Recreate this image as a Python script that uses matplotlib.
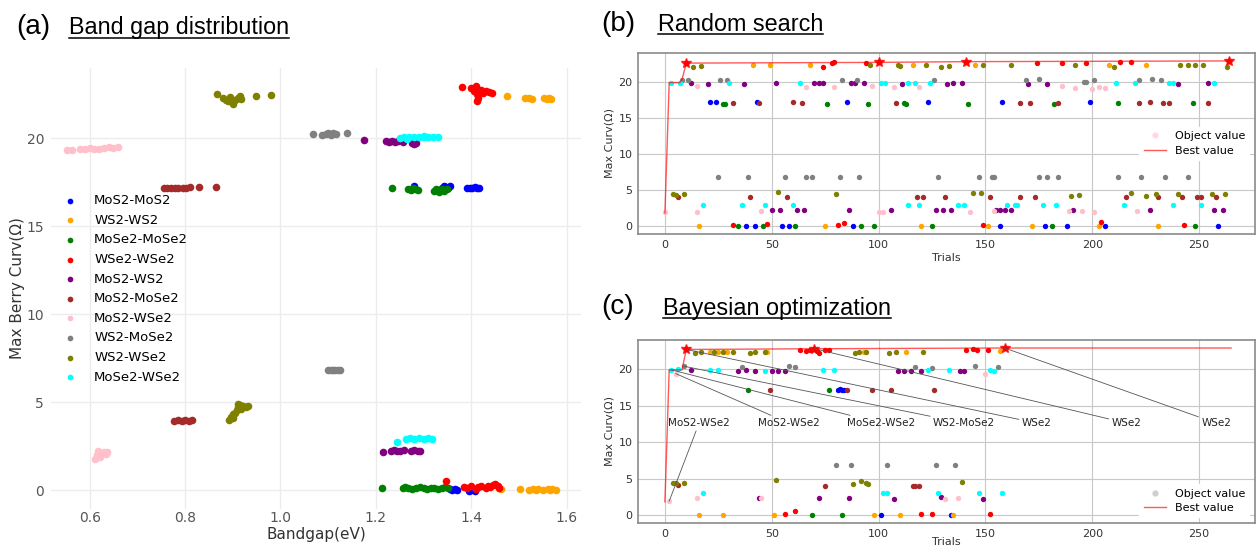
import matplotlib

matplotlib.use("Agg")

import matplotlib.pyplot as plt
from matplotlib.lines import Line2D

FIG_W, FIG_H = 1260, 547

STACKINGS = [
    "MoS2-MoS2", "WS2-WS2", "MoSe2-MoSe2", "WSe2-WSe2", "MoS2-WS2",
    "MoS2-MoSe2", "MoS2-WSe2", "WS2-MoSe2", "WS2-WSe2", "MoSe2-WSe2",
]
STACK_COLORS = [
    "blue", "orange", "green", "red", "purple",
    "brown", "pink", "gray", "olive", "cyan",
]

# (a) band gap (eV) vs max Berry curvature, one list per stacking
BG_MOS2_MOS2 = [(1.279, 17.3), (1.338, 17.2), (1.342, 17.3), (1.348, 17.25), (1.352, 17.2),
                (1.355, 17.3), (1.392, 17.2), (1.398, 17.15), (1.402, 17.2), (1.407, 17.25),
                (1.412, 17.15), (1.417, 17.2), (1.355, 0.05), (1.36, 0.0), (1.365, 0.05),
                (1.371, 0.0), (1.396, -0.05), (1.40, 0.0), (1.404, 0.05), (1.408, -0.05)]
BG_WS2_WS2 = [(1.475, 22.4), (1.513, 22.3), (1.52, 22.3), (1.527, 22.25), (1.553, 22.3),
              (1.558, 22.25), (1.562, 22.3), (1.568, 22.25), (1.462, 0.05), (1.503, 0.05),
              (1.52, 0.0), (1.53, 0.05), (1.535, 0.0), (1.54, 0.05), (1.55, 0.0),
              (1.56, 0.05), (1.565, 0.0), (1.57, 0.05), (1.578, 0.0)]
BG_MOSE2_MOSE2 = [(1.233, 17.15), (1.268, 17.1), (1.273, 17.05), (1.278, 17.15), (1.283, 17.1),
                  (1.288, 17.05), (1.322, 17.0), (1.327, 17.1), (1.333, 16.95), (1.338, 17.1),
                  (1.343, 17.0), (1.35, 17.1), (1.213, 0.1), (1.256, 0.1), (1.262, 0.15),
                  (1.268, 0.1), (1.275, 0.05), (1.285, 0.1), (1.292, 0.15), (1.30, 0.1),
                  (1.308, 0.05), (1.315, 0.1), (1.322, 0.1), (1.33, 0.05), (1.338, 0.1),
                  (1.345, 0.15), (1.352, 0.1)]
BG_WSE2_WSE2 = [(1.380, 22.9), (1.400, 22.85), (1.405, 22.7), (1.410, 22.95), (1.412, 22.5),
                (1.414, 22.3), (1.412, 22.1), (1.420, 22.75), (1.425, 22.6), (1.430, 22.7),
                (1.438, 22.65), (1.443, 22.6), (1.347, 0.5), (1.385, 0.15), (1.392, 0.1),
                (1.40, 0.2), (1.41, 0.05), (1.415, 0.15), (1.42, 0.2), (1.43, 0.1),
                (1.435, 0.25), (1.44, 0.15), (1.445, 0.3), (1.45, 0.35), (1.455, 0.2),
                (1.458, 0.1)]
BG_MOS2_WS2 = [(1.176, 19.9), (1.222, 19.85), (1.228, 19.8), (1.234, 19.85), (1.24, 19.8),
               (1.246, 19.85), (1.256, 19.8), (1.275, 19.75), (1.28, 19.7), (1.285, 19.75),
               (1.215, 2.15), (1.232, 2.2), (1.238, 2.25), (1.244, 2.2), (1.25, 2.2),
               (1.258, 2.25), (1.273, 2.2), (1.28, 2.25), (1.288, 2.2), (1.293, 2.2)]
BG_MOS2_MOSE2 = [(0.755, 17.2), (0.762, 17.2), (0.77, 17.2), (0.778, 17.2), (0.786, 17.2),
                 (0.795, 17.2), (0.803, 17.2), (0.81, 17.25), (0.83, 17.25), (0.864, 17.25),
                 (0.777, 3.95), (0.785, 4.0), (0.793, 3.95), (0.80, 4.0), (0.808, 3.95),
                 (0.815, 4.0)]
BG_MOS2_WSE2 = [(0.553, 19.35), (0.562, 19.35), (0.58, 19.4), (0.59, 19.4), (0.60, 19.45),
                (0.61, 19.4), (0.62, 19.4), (0.63, 19.45), (0.64, 19.5), (0.65, 19.45),
                (0.66, 19.5), (0.612, 1.75), (0.615, 2.0), (0.618, 2.2), (0.622, 1.9),
                (0.626, 2.1), (0.63, 2.15), (0.634, 2.05), (0.637, 2.15)]
BG_WS2_MOSE2 = [(1.069, 20.25), (1.087, 20.2), (1.095, 20.25), (1.10, 20.3), (1.106, 20.2),
                (1.11, 20.3), (1.116, 20.25), (1.14, 20.3), (1.10, 6.8), (1.105, 6.85),
                (1.11, 6.8), (1.115, 6.85), (1.12, 6.8), (1.124, 6.85)]
BG_WS2_WSE2 = [(0.866, 22.5), (0.88, 22.3), (0.885, 22.2), (0.89, 22.1), (0.895, 22.35),
               (0.90, 21.95), (0.905, 22.2), (0.91, 22.3), (0.915, 22.4), (0.918, 22.25),
               (0.948, 22.4), (0.98, 22.45), (0.893, 4.0), (0.897, 4.15), (0.90, 4.3),
               (0.905, 4.4), (0.908, 4.55), (0.912, 4.7), (0.915, 4.85), (0.918, 4.6),
               (0.922, 4.75), (0.928, 4.7), (0.932, 4.8), (0.90, 4.1), (0.91, 4.9)]
BG_MOSE2_WSE2 = [(1.25, 20.0), (1.26, 20.1), (1.265, 19.95), (1.27, 20.05), (1.28, 20.1),
                 (1.29, 20.05), (1.30, 20.1), (1.30, 20.15), (1.31, 20.05), (1.32, 20.1),
                 (1.33, 20.1), (1.244, 2.75), (1.264, 2.9), (1.272, 2.95), (1.28, 2.9),
                 (1.29, 2.95), (1.30, 2.9), (1.31, 2.95), (1.318, 2.9)]

# (b) random search: (trial, max curvature) per stacking
RS_MOS2_MOS2 = [(21, 17.2), (24, 17.2), (43, 17.2), (85, 17.2), (123, 17.2), (158, 17.2),
                (199, 17.2), (38, 0), (42, 0), (55, 0), (58, 0), (88, 0), (157, 0), (178, 0),
                (188, 0), (206, 0), (259, 0)]
RS_WS2_WS2 = [(41, 22.4), (49, 22.4), (68, 22.4), (116, 22.4), (145, 22.3), (208, 22.4),
              (225, 22.3), (16, 0), (75, 0), (120, 0), (151, 0), (172, 0), (203, 0), (231, 0)]
RS_MOSE2_MOSE2 = [(27, 16.95), (28, 16.9), (76, 16.9), (95, 16.95), (112, 17.0), (113, 16.95),
                  (142, 16.95), (182, 16.95), (212, 17.0), (247, 17.0), (34, 0), (46, 0.05),
                  (61, -0.05), (92, 0), (98, 0), (125, 0), (181, 0), (248, 0)]
RS_WSE2_WSE2 = [(10, 22.6), (74, 22.1), (78, 22.6), (79, 22.7), (94, 22.6), (100, 22.7),
                (141, 22.8), (174, 22.6), (186, 22.6), (197, 22.6), (213, 22.8), (218, 22.7),
                (264, 22.9), (32, 0.1), (48, 0.3), (81, 0.2), (84, 0.4), (149, 0.1),
                (204, 0.5), (243, 0.1)]
RS_MOS2_WS2 = [(12, 19.8), (20, 19.7), (37, 19.7), (52, 19.8), (70, 19.8), (72, 19.8),
               (74, 19.8), (87, 19.8), (89, 19.8), (93, 19.8), (111, 19.7), (132, 19.7),
               (135, 19.8), (139, 19.8), (170, 19.7), (179, 19.7), (240, 19.7), (254, 19.8),
               (50, 2.2), (54, 2.2), (62, 2.2), (65, 2.2), (86, 2.2), (106, 2.2), (127, 2.2),
               (130, 2.2), (134, 2.2), (155, 2.2), (157, 2.2), (159, 2.2), (162, 2.2),
               (191, 2.2), (227, 2.2), (257, 2.2), (261, 2.2)]
RS_MOS2_MOSE2 = [(32, 17.1), (44, 17.1), (60, 17.2), (64, 17.1), (108, 17.1), (166, 17.1),
                 (171, 17.1), (184, 17.1), (222, 17.1), (227, 17.2), (233, 17.1), (236, 17.1),
                 (254, 17.1), (6, 4.0), (40, 4.0), (57, 4.0), (118, 4.0), (121, 4.0),
                 (131, 4.0), (152, 4.0), (166, 4.0), (173, 4.0), (216, 4.0), (231, 4.0),
                 (242, 4.0), (249, 4.0), (251, 4.0), (258, 4.0)]
RS_MOS2_WSE2 = [(15, 19.4), (66, 19.3), (79, 19.3), (97, 19.4), (107, 19.3), (119, 19.3),
                (186, 19.4), (192, 19.2), (200, 19.0), (203, 19.3), (206, 19.2), (0, 2.0),
                (15, 2.0), (45, 2.1), (100, 2.0), (102, 2.0), (143, 2.0), (154, 2.1),
                (189, 2.1), (195, 2.1), (201, 2.0), (221, 2.1)]
RS_WS2_MOSE2 = [(8, 20.3), (11, 20.3), (26, 20.2), (29, 20.3), (83, 20.2), (90, 20.3),
                (126, 20.2), (169, 20.2), (175, 20.4), (196, 20.0), (197, 20.0), (201, 20.2),
                (222, 20.2), (228, 20.4), (232, 20.3), (25, 6.8), (39, 6.8), (56, 6.8),
                (66, 6.8), (69, 6.8), (82, 6.8), (91, 6.8), (128, 6.8), (147, 6.8), (153, 6.8),
                (154, 6.8), (175, 6.8), (179, 6.8), (184, 6.8), (212, 6.8), (223, 6.8),
                (234, 6.8), (245, 6.8)]
RS_WS2_WSE2 = [(13, 22.0), (17, 22.2), (96, 22.3), (109, 22.3), (110, 22.2), (122, 22.3),
               (129, 22.1), (133, 22.2), (149, 22.3), (162, 22.3), (192, 22.3), (210, 22.0),
               (241, 22.3), (245, 22.3), (248, 22.3), (252, 22.3), (263, 22.1), (4, 4.4),
               (5, 4.3), (9, 4.5), (53, 4.7), (80, 4.5), (144, 4.6), (148, 4.6), (190, 4.2),
               (194, 4.3), (218, 4.6), (225, 4.2), (230, 4.4), (240, 4.4), (256, 4.4),
               (262, 4.4)]
RS_MOSE2_WSE2 = [(3, 19.9), (7, 19.9), (30, 19.9), (63, 19.9), (101, 19.8), (103, 19.8),
                 (114, 19.8), (117, 19.9), (124, 19.9), (211, 19.8), (220, 19.9), (236, 19.8),
                 (238, 19.8), (257, 19.8), (18, 2.9), (36, 2.9), (47, 2.9), (60, 2.9),
                 (114, 2.9), (119, 2.9), (137, 2.9), (140, 2.9), (160, 2.9), (164, 2.9),
                 (165, 2.9), (177, 2.9), (183, 2.9), (215, 2.9), (238, 2.9), (251, 2.9)]

RS_BEST_TRIAL = [0, 2, 7, 8, 10, 100, 141, 264]
RS_BEST_VALUE = [1.8, 19.9, 19.9, 20.3, 22.6, 22.7, 22.8, 22.9]
RS_STAR_TRIAL = [10, 100, 141, 264]
RS_STAR_VALUE = [22.6, 22.7, 22.8, 22.9]

# (c) Bayesian optimization: (trial, max curvature) per stacking
BO_MOS2_MOS2 = [(81, 17.2), (82, 17.3), (83, 17.2), (84, 17.2), (101, 0), (134, 0)]
BO_WS2_WS2 = [(21, 22.3), (25, 22.3), (29, 22.4), (48, 22.3), (93, 22.3), (113, 22.3),
              (157, 22.5), (16, 0), (27, 0), (51, 0), (98, 0), (110, 0), (135, 0)]
BO_MOSE2_MOSE2 = [(39, 17.1), (77, 17.1), (69, 0), (83, 0)]
BO_WSE2_WSE2 = [(10, 22.7), (63, 22.6), (66, 22.5), (68, 22.6), (70, 22.8), (71, 22.5),
                (72, 22.2), (75, 22.6), (77, 22.6), (141, 22.6), (144, 22.7), (146, 22.6),
                (151, 22.6), (159, 22.9), (56, 0.1), (61, 0.6), (120, 0.1), (125, 0.1),
                (152, 0.1)]
BO_MOS2_WS2 = [(12, 19.9), (34, 19.8), (38, 19.9), (42, 19.8), (50, 19.8), (53, 19.8),
               (56, 19.7), (109, 19.8), (112, 19.7), (115, 19.8), (120, 19.8), (138, 19.8),
               (140, 19.8), (44, 2.3), (72, 2.3), (86, 2.3), (107, 2.2), (129, 2.4),
               (149, 2.2)]
BO_MOS2_MOSE2 = [(49, 17.2), (85, 17.1), (97, 17.2), (106, 17.1), (126, 17.2), (6, 4.1),
                 (75, 4.0), (116, 4.0), (117, 4.0), (119, 4.0)]
BO_MOS2_WSE2 = [(5, 19.4), (150, 19.3), (2, 1.9), (15, 2.3), (45, 2.3), (131, 2.2),
                (137, 2.3)]
BO_WS2_MOSE2 = [(9, 20.4), (36, 20.3), (58, 20.4), (61, 20.3), (117, 20.3), (125, 20.2),
                (145, 20.4), (156, 20.3), (80, 6.8), (87, 6.8), (104, 6.8), (127, 6.8),
                (136, 6.8)]
BO_WS2_WSE2 = [(14, 22.2), (17, 22.4), (23, 22.3), (27, 22.3), (32, 22.3), (40, 22.2),
               (42, 22.3), (47, 22.4), (89, 22.2), (91, 22.3), (94, 22.4), (105, 22.2),
               (108, 22.4), (121, 22.4), (4, 4.4), (5, 4.4), (9, 4.4), (52, 4.8), (88, 4.3),
               (92, 4.6), (94, 4.4), (95, 4.2), (139, 4.5)]
BO_MOSE2_WSE2 = [(3, 19.9), (6, 20.0), (21, 19.9), (25, 19.9), (47, 19.8), (74, 19.9),
                 (79, 19.9), (123, 19.9), (133, 19.9), (152, 19.9), (154, 19.8), (18, 3.0),
                 (102, 3.0), (104, 3.0), (128, 3.0), (147, 3.0), (158, 3.0)]

BO_BEST_TRIAL = [0, 2, 8, 10, 70, 159, 265]
BO_BEST_VALUE = [1.8, 19.9, 19.9, 22.7, 22.8, 22.9, 22.9]
BO_STAR_TRIAL = [10, 70, 159]
BO_STAR_VALUE = [22.7, 22.8, 22.9]

BO_NOTE_LABELS = ["MoS2-WSe2", "MoS2-WSe2", "MoSe2-WSe2", "WS2-MoSe2", "WSe2", "WSe2", "WSe2"]
BO_NOTE_POINT_TRIAL = [2, 5, 3, 9, 10, 70, 159]
BO_NOTE_POINT_VALUE = [1.9, 19.4, 19.9, 20.4, 22.7, 22.8, 22.9]
BO_NOTE_TEXT_TRIAL = [16, 58, 101, 140, 174, 216, 258]
BO_NOTE_TEXT_VALUE = [12.6, 12.6, 12.6, 12.6, 12.6, 12.6, 12.6]

BANDGAP_SETS = [BG_MOS2_MOS2, BG_WS2_WS2, BG_MOSE2_MOSE2, BG_WSE2_WSE2, BG_MOS2_WS2,
                BG_MOS2_MOSE2, BG_MOS2_WSE2, BG_WS2_MOSE2, BG_WS2_WSE2, BG_MOSE2_WSE2]
RANDOM_SETS = [RS_MOS2_MOS2, RS_WS2_WS2, RS_MOSE2_MOSE2, RS_WSE2_WSE2, RS_MOS2_WS2,
               RS_MOS2_MOSE2, RS_MOS2_WSE2, RS_WS2_MOSE2, RS_WS2_WSE2, RS_MOSE2_WSE2]
BAYES_SETS = [BO_MOS2_MOS2, BO_WS2_WS2, BO_MOSE2_MOSE2, BO_WSE2_WSE2, BO_MOS2_WS2,
              BO_MOS2_MOSE2, BO_MOS2_WSE2, BO_WS2_MOSE2, BO_WS2_WSE2, BO_MOSE2_WSE2]

TITLE_FONT = ["Liberation Sans", "DejaVu Sans"]


def _box(left, top, right, bottom):
    # pixel box (origin top-left) -> figure fraction rect
    return [left / FIG_W, 1 - bottom / FIG_H, (right - left) / FIG_W, (bottom - top) / FIG_H]


def _panel_title(figure, tag, title, tag_x, title_x, baseline, underline_y):
    y = 1 - baseline / FIG_H
    figure.text(tag_x / FIG_W, y, tag, fontsize=20, family=TITLE_FONT, va="baseline")
    text = figure.text(title_x / FIG_W, y, title, fontsize=16.8, family=TITLE_FONT, va="baseline")
    renderer = figure.canvas.get_renderer()
    extent = text.get_window_extent(renderer)
    x0, x1 = extent.x0 / FIG_W, extent.x1 / FIG_W
    line_y = 1 - underline_y / FIG_H
    figure.add_artist(Line2D([x0, x1], [line_y, line_y], color="black", linewidth=1.1,
                             transform=figure.transFigure))


def _plot_band_gap(axis):
    for points, color, name in zip(BANDGAP_SETS, STACK_COLORS, STACKINGS):
        axis.scatter([p[0] for p in points], [p[1] for p in points], s=30, color=color,
                     linewidths=0, label=name, zorder=3)
    axis.set_xlim(0.519, 1.630)
    axis.set_ylim(-1.08, 24.0)
    axis.set_xticks([0.6, 0.8, 1.0, 1.2, 1.4, 1.6])
    axis.set_yticks([0, 5, 10, 15, 20])
    axis.grid(color="#ececec", linewidth=1.0, zorder=0)
    for spine in axis.spines.values():
        spine.set_visible(False)
    axis.tick_params(length=0, labelsize=10, labelcolor="#555555")
    axis.tick_params(axis="x", pad=1.5)
    axis.tick_params(axis="y", pad=5)
    axis.set_xlabel("Bandgap(eV)", fontsize=11, color="#333333")
    axis.xaxis.set_label_coords(0.5, -0.057)
    axis.xaxis.label.set_verticalalignment("center")
    axis.set_ylabel("Max Berry Curv(Ω)", fontsize=11, color="#333333")
    axis.yaxis.set_label_coords(-0.064, 0.5)
    axis.yaxis.label.set_verticalalignment("center")
    figure = axis.figure
    axis.legend(loc="upper left", bbox_to_anchor=(52 / FIG_W, 1 - 189 / FIG_H),
                bbox_transform=figure.transFigure, borderaxespad=0, frameon=False,
                fontsize=9.5, labelspacing=0.5, markerscale=0.75, handletextpad=0.8)


def _plot_trials(axis, sets, best_trial, best_value, star_trial, star_value,
                 object_color, legend_loc):
    for points, color in zip(sets, STACK_COLORS):
        axis.scatter([p[0] for p in points], [p[1] for p in points], s=15, color=color,
                     linewidths=0, zorder=3)
    axis.plot(best_trial, best_value, color="red", alpha=0.65, linewidth=1.0, zorder=4)
    axis.plot(star_trial, star_value, linestyle="none", marker="*", color="red",
              markersize=7, alpha=0.8, zorder=5)
    axis.set_xlim(-12.6, 276.2)
    axis.set_ylim(-1.1, 24.0)
    axis.set_xticks([0, 50, 100, 150, 200, 250])
    axis.set_yticks([0, 5, 10, 15, 20])
    axis.grid(color="#c8c8c8", linewidth=0.8, zorder=0)
    for spine in axis.spines.values():
        spine.set_color("#8a8a8a")
        spine.set_linewidth(1.2)
    axis.tick_params(length=0, labelsize=8, labelcolor="#333333", pad=4)
    axis.set_xlabel("Trials", fontsize=8, color="#333333")
    axis.xaxis.set_label_coords(0.5, -0.133)
    axis.xaxis.label.set_verticalalignment("center")
    axis.set_ylabel("Max Curv(Ω)", fontsize=8, color="#333333")
    axis.yaxis.set_label_coords(-0.047, 0.5)
    axis.yaxis.label.set_verticalalignment("center")
    handles = [
        Line2D([], [], linestyle="none", marker="o", markersize=4.5, markerfacecolor=object_color,
               markeredgecolor="none", alpha=0.6),
        Line2D([], [], color="red", alpha=0.65, linewidth=1.0),
    ]
    legend = axis.legend(handles, ["Object value", "Best value"], loc=legend_loc, fontsize=8,
                         frameon=True, framealpha=1.0, edgecolor="white", labelspacing=0.4)
    legend.set_zorder(7)


def _annotate_bayes(axis):
    for label, pt, pv, tt, tv in zip(BO_NOTE_LABELS, BO_NOTE_POINT_TRIAL, BO_NOTE_POINT_VALUE,
                                     BO_NOTE_TEXT_TRIAL, BO_NOTE_TEXT_VALUE):
        axis.annotate(label, xy=(pt, pv), xytext=(tt, tv), ha="center", va="center",
                      fontsize=7.5, color="#222222", zorder=6,
                      arrowprops=dict(arrowstyle="-", color="#555555", linewidth=0.6,
                                      shrinkA=0, shrinkB=0))


def main() -> None:
    figure = plt.figure(figsize=(FIG_W / 100, FIG_H / 100), dpi=100)
    figure.patch.set_facecolor("white")

    band_axis = figure.add_axes(_box(51, 68, 581, 509))
    random_axis = figure.add_axes(_box(638, 53, 1255, 234))
    bayes_axis = figure.add_axes(_box(638, 340, 1255, 523))

    _plot_band_gap(band_axis)
    _plot_trials(random_axis, RANDOM_SETS, RS_BEST_TRIAL, RS_BEST_VALUE, RS_STAR_TRIAL,
                 RS_STAR_VALUE, "pink", "center right")
    _plot_trials(bayes_axis, BAYES_SETS, BO_BEST_TRIAL, BO_BEST_VALUE, BO_STAR_TRIAL,
                 BO_STAR_VALUE, "#b0b0b0", "lower right")
    bayes_axis.xaxis.set_label_coords(0.5, -0.106)
    _annotate_bayes(bayes_axis)

    _panel_title(figure, "(a)", "Band gap distribution", 16, 69, 34, 37.5)
    _panel_title(figure, "(b)", "Random search", 601, 658, 31, 34)
    _panel_title(figure, "(c)", "Bayesian optimization", 601, 663, 314.5, 318)

    figure.savefig("out.png", dpi=100)
    plt.close(figure)


if __name__ == "__main__":
    main()
